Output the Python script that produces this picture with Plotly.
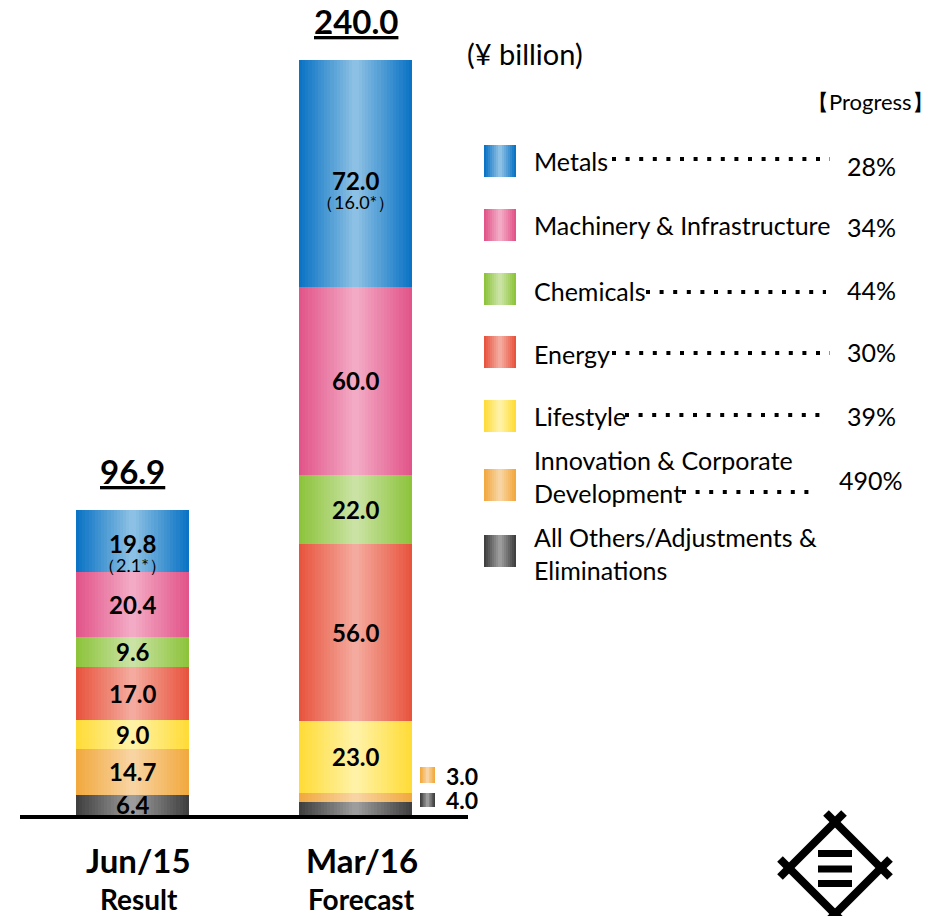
import plotly.graph_objects as go

# ---------------- data ----------------
categories = ["Jun/15", "Mar/16"]
category_sub = ["Result", "Forecast"]
# stacking order: bottom -> top
segments = ["All Others/Adjustments & Eliminations", "Innovation & Corporate Development",
            "Lifestyle", "Energy", "Chemicals", "Machinery & Infrastructure", "Metals"]
jun15_values = [6.4, 14.7, 9.0, 17.0, 9.6, 20.4, 19.8]
mar16_values = [4.0, 3.0, 23.0, 56.0, 22.0, 60.0, 72.0]
totals = [96.9, 240.0]
metals_note = ["（2.1*）", "（16.0*）"]

# legend (top -> bottom)
legend_labels = ["Metals", "Machinery & Infrastructure", "Chemicals", "Energy", "Lifestyle",
                 "Innovation & Corporate<br>Development", "All Others/Adjustments &<br>Eliminations"]
progress = ["28%", "34%", "44%", "30%", "39%", "490%", ""]

# colours (edge, centre) per segment, bottom -> top
edge_colors = ["#404040", "#F2A940", "#FFDC38", "#E8553F", "#8DC43C", "#E2558A", "#0B74C4"]
center_colors = ["#9C9C9C", "#F8D4A2", "#FFF2A6", "#F4AA9E", "#CAE3A4", "#F3AAC4", "#8CC0E4"]

# ---------------- helpers ----------------
W, H = 933, 916


def hex2rgb(h):
    h = h.lstrip("#")
    return tuple(int(h[i:i + 2], 16) for i in (0, 2, 4))


def lerp(c1, c2, t):
    a, b = hex2rgb(c1), hex2rgb(c2)
    return "rgb(%d,%d,%d)" % tuple(round(a[i] + (b[i] - a[i]) * t) for i in range(3))


def px(x):
    return x / W


def py(y):
    return 1 - y / H


# axis geometry (pixels)
c0_px, c1_px = 132.5, 355.5
unit_px = c1_px - c0_px
bar_w = 113 / unit_px
base_px, top_px = 815, 60
yscale = (base_px - top_px) / totals[1]

fig = go.Figure()

# gradient bars built from stacked data, layered narrower/lighter
values = [jun15_values, mar16_values]
xs, ys, bases, segidx = [], [], [], []
for ci, cat in enumerate(categories):
    cum = 0
    for si, v in enumerate(values[ci]):
        xs.append(ci)
        ys.append(v)
        bases.append(cum)
        segidx.append(si)
        cum += v

N = 18
for k in range(N):
    frac = k / N
    cols = [lerp(edge_colors[s], center_colors[s], frac / ((N - 1) / N)) for s in segidx]
    fig.add_trace(go.Bar(
        x=xs, y=ys, base=bases, width=bar_w * (1 - frac),
        marker=dict(color=cols, line=dict(width=0)),
        hoverinfo="skip", showlegend=False,
    ))

annotations = []
shapes = []
FONT = "Lato, 'Open Sans', sans-serif"


def ann(**kw):
    kw.setdefault("showarrow", False)
    kw.setdefault("yanchor", "middle")
    kw.setdefault("xanchor", "center")
    annotations.append(kw)


# value labels inside bars
for ci in range(2):
    cum = 0
    for si, v in enumerate(values[ci]):
        mid = cum + v / 2
        cum += v
        if ci == 1 and v < 5:
            continue
        ys_off = 0
        if si == len(segments) - 1:
            ys_off = -2 if ci == 0 else -7
        ann(x=ci, y=mid, xref="x", yref="y", yshift=ys_off,
            text="<b>%.1f</b>" % v, font=dict(family=FONT, size=24, color="black"))
        if si == len(segments) - 1:
            ann(x=ci, y=mid, xref="x", yref="y", yshift=ys_off - 22,
                text=metals_note[ci], font=dict(family=FONT, size=18, color="black"))
    # total on top
    ann(x=ci, y=totals[ci], xref="x", yref="y", yshift=39,
        text="<b><u>%.1f</u></b>" % totals[ci], font=dict(family=FONT, size=33, color="black"))
    # category label
    ann(x=ci, y=py(860), xref="x", yref="paper", xshift=6,
        text="<b>%s</b>" % categories[ci], font=dict(family=FONT, size=33, color="black"))
    ann(x=ci, y=py(899), xref="x", yref="paper", xshift=6,
        text="<b>%s</b>" % category_sub[ci], font=dict(family=FONT, size=28, color="black"))


def grad_rect(x0, y0, x1, y1, edge, center, n=8):
    w = x1 - x0
    for k in range(n):
        f = k / n
        inset = w * f / 2
        shapes.append(dict(type="rect", xref="paper", yref="paper",
                           x0=px(x0 + inset), x1=px(x1 - inset), y0=py(y1), y1=py(y0),
                           fillcolor=lerp(edge, center, f / ((n - 1) / n)),
                           line=dict(width=0), layer="above"))


# outside labels for small Mar/16 segments
small = [(1, 776, 767, 783), (0, 800, 793, 807)]  # segment index, text y, square y0, y1
for si, ty, sy0, sy1 in small:
    grad_rect(420, sy0, 435, sy1, edge_colors[si], center_colors[si], n=5)
    ann(x=px(444), y=py(ty), xref="paper", yref="paper", xanchor="left",
        text="<b>%.1f</b>" % mar16_values[si], font=dict(family=FONT, size=23, color="black"))

# baseline
shapes.append(dict(type="line", xref="paper", yref="paper", x0=px(20), x1=px(468),
                   y0=py(817), y1=py(817), line=dict(color="black", width=4), layer="above"))

# unit and progress header
ann(x=px(465), y=py(53), xref="paper", yref="paper", xanchor="left",
    text="(¥ billion)", font=dict(family=FONT, size=29, color="black"))
ann(x=px(805), y=py(102), xref="paper", yref="paper", xanchor="left",
    text="【Progress】", font=dict(family=FONT, size=22, color="black"))

# custom legend
sq_centers = [161, 225, 289, 352, 416, 485, 551]
text_y = [161, 225, 291, 354, 416, 477, 553]
pct_y = [166, 227, 290, 352, 416, 480, None]
leg_seg = list(reversed(range(len(segments))))
dots = [(612, 830, 159), None, (646, 826, 292), (612, 830, 353), (625, 828, 415), (682, 818, 492), None]
for i in range(7):
    s = leg_seg[i]
    c = sq_centers[i]
    grad_rect(484, c - 16, 516, c + 16, edge_colors[s], center_colors[s], n=8)
    ann(x=px(532), y=py(text_y[i]), xref="paper", yref="paper",
        xanchor="left", align="left", text=legend_labels[i],
        font=dict(family=FONT, size=25, color="black"))
    if progress[i]:
        ann(x=px(871), y=py(pct_y[i]), xref="paper", yref="paper",
            text=progress[i], font=dict(family=FONT, size=25, color="black"))
    if dots[i]:
        x0, x1, yy = dots[i]
        shapes.append(dict(type="line", xref="paper", yref="paper", x0=px(x0), x1=px(x1),
                           y0=py(yy), y1=py(yy),
                           line=dict(color="black", width=4, dash="4px,9.6px")))

# logo (Mitsui mark)
cx, cy, r, ext = 835, 868, 46, 9
verts = [(cx, cy - r), (cx + r, cy), (cx, cy + r), (cx - r, cy)]
for a in range(4):
    p0 = verts[a]
    p1 = verts[(a + 1) % 4]
    dx = (p1[0] - p0[0]) / r
    dy = (p1[1] - p0[1]) / r
    shapes.append(dict(type="line", xref="paper", yref="paper",
                       x0=px(p0[0] - dx * ext), y0=py(p0[1] - dy * ext),
                       x1=px(p1[0] + dx * ext), y1=py(p1[1] + dy * ext),
                       line=dict(color="black", width=8)))
for by in (853.5, 869, 883.5):
    shapes.append(dict(type="rect", xref="paper", yref="paper", x0=px(818), x1=px(852),
                       y0=py(by + 3.5), y1=py(by - 3.5), fillcolor="black", line=dict(width=0)))

fig.update_layout(
    width=W, height=H, autosize=False,
    margin=dict(l=0, r=0, t=0, b=0),
    paper_bgcolor="white", plot_bgcolor="white",
    barmode="overlay", bargap=0,
    showlegend=False,
    xaxis=dict(range=[-c0_px / unit_px, (W - c0_px) / unit_px], visible=False, fixedrange=True),
    yaxis=dict(range=[-(H - base_px) / yscale, base_px / yscale], visible=False, fixedrange=True),
    annotations=annotations,
    shapes=shapes,
)

fig.write_html("out.html", config={"displayModeBar": False},
               post_script="document.body.style.margin='0';document.body.style.overflow='hidden';")
